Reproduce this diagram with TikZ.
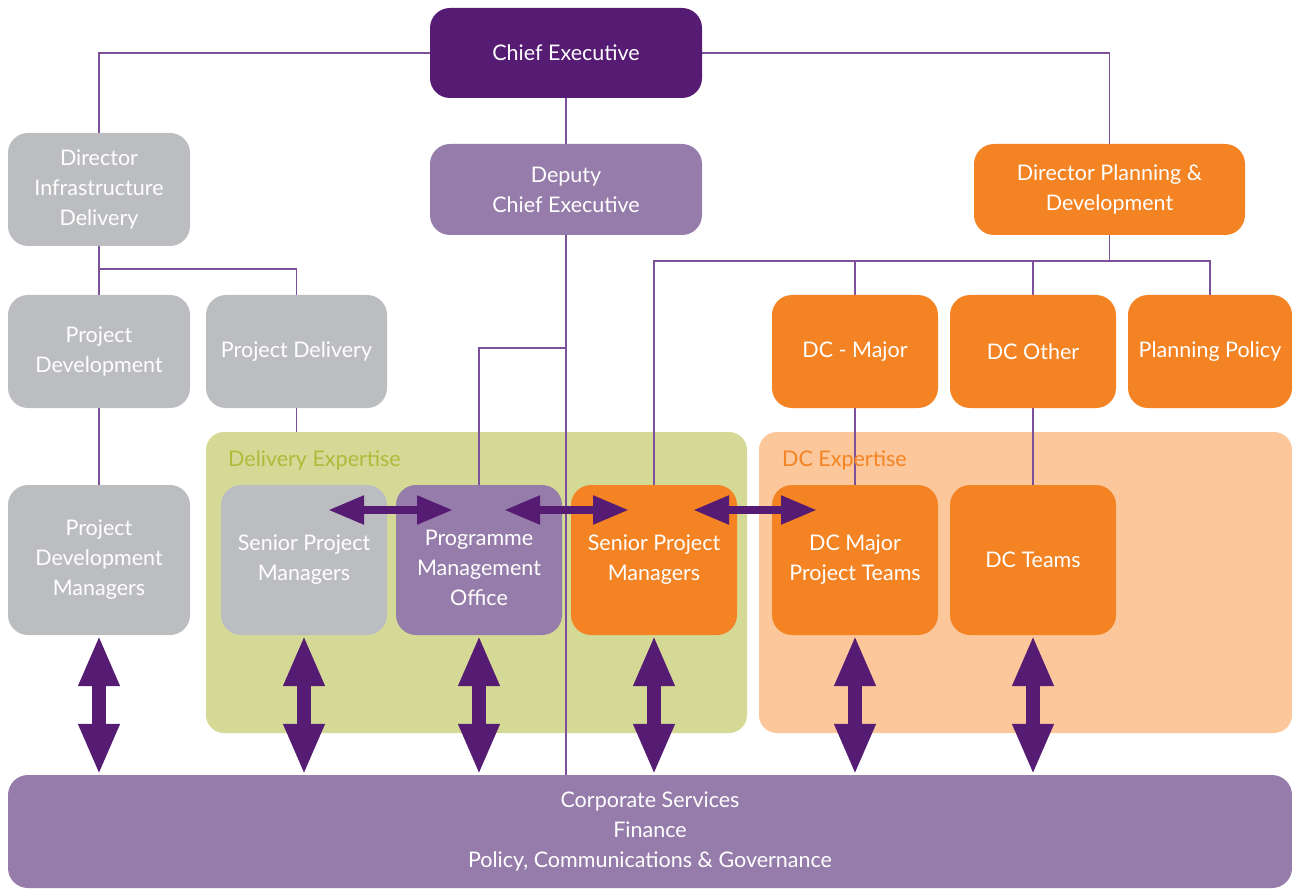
\documentclass[tikz,border=0pt]{standalone}
\usepackage{fontspec}
\setmainfont{Lato}
\usetikzlibrary{arrows.meta}

\definecolor{ceopurple}{RGB}{86,27,114}
\definecolor{softpurple}{RGB}{150,124,170}
\definecolor{linkpurple}{RGB}{125,80,155}
\definecolor{unitgrey}{RGB}{188,189,192}
\definecolor{unitorange}{RGB}{243,131,35}
\definecolor{delgreen}{RGB}{212,218,150}
\definecolor{deltext}{RGB}{172,188,58}
\definecolor{dcpeach}{RGB}{251,199,155}

\pgfdeclarelayer{panels}
\pgfdeclarelayer{links}
\pgfsetlayers{panels,links,main}

\tikzset{
  unit/.style={rounded corners=20pt, inner sep=0pt, align=center, text=white,
    font=\fontsize{21.5}{30}\selectfont},
  wh/.style 2 args={minimum width=#1pt, minimum height=#2pt},
  panel/.style={rounded corners=18pt, inner sep=0pt},
  paneltitle/.style={anchor=west, inner sep=0pt, font=\fontsize{21.5}{24}\selectfont},
  link/.style={linkpurple, line width=1.5pt},
  twoway/.style={ceopurple, line width=14pt,
    {Triangle[width=38pt,length=51pt]}-{Triangle[width=38pt,length=51pt]}},
  sideway/.style={ceopurple, line width=8pt,
    {Triangle[width=27pt,length=36pt]}-{Triangle[width=27pt,length=36pt]}},
}

\begin{document}
\begin{tikzpicture}[x=1pt, y=-1pt]

    % Drawing Parameters
    \pgfmathsetmacro{\figurewidth}{1292}%
    \pgfmathsetmacro{\figureheight}{890}%
    \pgfmathsetmacro{\toprow}{351.5}%
    \pgfmathsetmacro{\lowrow}{560}%

    \useasboundingbox (0,0) rectangle (\figurewidth,\figureheight);

    %% Expertise panels
    \begin{pgfonlayer}{panels}
      \node[panel, fill=delgreen, wh={541}{301}] (delpanel) at (476.5,582.5) {};
      \node[panel, fill=dcpeach, wh={533}{301}] (dcpanel) at (1025.5,582.5) {};
    \end{pgfonlayer}
    \node[paneltitle, text=deltext] (deltitle) at (228,460) {Delivery Expertise};
    \node[paneltitle, text=unitorange] (dctitle) at (782,460) {DC Expertise};

    %% Top level
    \node[unit, fill=ceopurple, wh={272}{90}] (ceo) at (566,53) {Chief Executive};
    \node[unit, fill=unitgrey, wh={182}{113}] (dirinfra) at (99,189.5) {Director\\Infrastructure\\Delivery};
    \node[unit, fill=softpurple, wh={272}{91}] (deputy) at (566,189.5) {Deputy\\Chief Executive};
    \node[unit, fill=unitorange, wh={271}{91}] (dirplan) at (1109.5,189.5) {Director Planning \&\\Development};

    %% Second row
    \node[unit, fill=unitgrey, wh={182}{113}] (projdev) at (99,\toprow) {Project\\Development};
    \node[unit, fill=unitgrey, wh={181}{113}] (projdel) at (296.5,\toprow) {Project Delivery};
    \node[unit, fill=unitorange, wh={166}{113}] (dcmajor) at (855,\toprow) {DC - Major};
    \node[unit, fill=unitorange, wh={166}{113}] (dcother) at (1033,\toprow) {DC Other};
    \node[unit, fill=unitorange, wh={164}{113}] (planpol) at (1210,\toprow) {Planning Policy};

    %% Third row
    \node[unit, fill=unitgrey, wh={182}{150}] (pdm) at (99,\lowrow) {Project\\Development\\Managers};
    \node[unit, fill=unitgrey, wh={166}{150}] (spmgrey) at (304,\lowrow) {Senior Project\\Managers};
    \node[unit, fill=softpurple, wh={166}{150}, text height=91.5pt] (pmo) at (479,\lowrow) {Programme\\Management\\Office};
    \node[unit, fill=unitorange, wh={166}{150}] (spmorange) at (654,\lowrow) {Senior Project\\Managers};
    \node[unit, fill=unitorange, wh={166}{150}] (dcmpt) at (855,\lowrow) {DC Major\\Project Teams};
    \node[unit, fill=unitorange, wh={166}{150}] (dcteams) at (1033,\lowrow) {DC Teams};

    %% Corporate services
    \node[unit, fill=softpurple, wh={1284}{113}] (corp) at (650,831.5)
      {Corporate Services\\Finance\\Policy, Communications \& Governance};

    %% Reporting lines
    \coordinate (infrabus) at (0,269);
    \coordinate (planbus) at (0,261);
    \coordinate (pmojoin) at (566,348);
    \begin{pgfonlayer}{links}
      % Chief Executive
      \draw[link] (ceo.west) -| (dirinfra.north);
      \draw[link] (ceo.east) -| (dirplan.north);
      \draw[link] (ceo.south) -- (deputy.north);
      \draw[link] (deputy.south) -- (deputy.south |- corp.north);
      % Infrastructure side
      \draw[link] (dirinfra.south) -- (projdev.north);
      \draw[link] (dirinfra.south |- infrabus) -| (projdel.north);
      \draw[link] (projdev.south) -- (pdm.north);
      \draw[link] (projdel.south) -- (projdel.south |- delpanel.north);
      \draw[link] (pmo.north) |- (pmojoin);
      % Planning side
      \draw[link] (dirplan.south) -- (dirplan.south |- planbus);
      \draw[link] (spmorange.north) |- (planbus -| planpol.north) -- (planpol.north);
      \draw[link] (dcmajor.north |- planbus) -- (dcmajor.north);
      \draw[link] (dcother.north |- planbus) -- (dcother.north);
      \draw[link] (dcmajor.south) -- (dcmpt.north);
      \draw[link] (dcother.south) -- (dcteams.north);
    \end{pgfonlayer}

    %% Two way arrows to Corporate Services
    \foreach \unitname in {pdm,spmgrey,pmo,spmorange,dcmpt,dcteams}
      \draw[twoway] (\unitname.south) -- (\unitname.south |- corp.north);

    %% Two way arrows between teams
    \coordinate (sidea) at (328,510);
    \coordinate (sideb) at (453,510);
    \coordinate (sidec) at (504,510);
    \coordinate (sided) at (629,510);
    \coordinate (sidee) at (693,510);
    \coordinate (sidef) at (817,510);
    \draw[sideway] (sidea) -- (sideb);
    \draw[sideway] (sidec) -- (sided);
    \draw[sideway] (sidee) -- (sidef);
  \end{tikzpicture}
\end{document}
